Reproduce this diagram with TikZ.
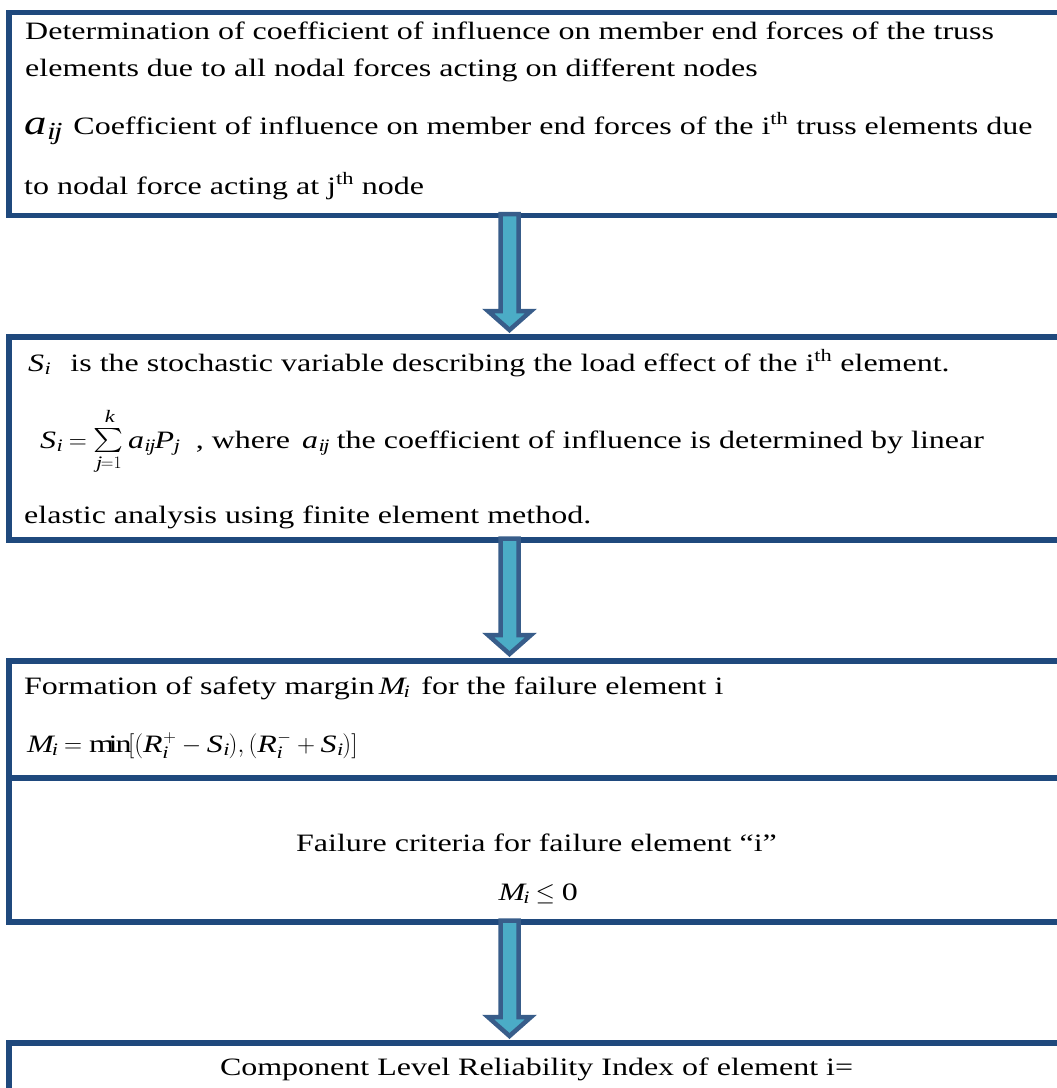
\RequirePackage{fix-cm}
\documentclass[tikz,border=0pt]{standalone}
\usepackage{fontspec}
\setmainfont{Liberation Serif}[FakeStretch=1.28]
\usepackage{graphicx}
\usetikzlibrary{calc}
\definecolor{boxblue}{RGB}{31,73,125}
\definecolor{arrline}{RGB}{56,93,138}
\definecolor{arrfill}{RGB}{75,172,198}
% italic letter with index, in the text font
\newcommand{\vx}[2]{\mathit{#1}_{\mkern4mu\mathit{#2}}}
\newcommand{\vxs}[3]{\mathit{#1}^{\mkern5mu#3}_{\mkern4mu\mathit{#2}}}
\newcommand{\bigsum}{\mathop{\vcenter{\hbox{\resizebox{30pt}{27pt}{$\textstyle\sum$}}}}\limits}
\begin{document}
\begin{tikzpicture}[x=1pt,y=-1pt,line join=miter]
	\tikzset{box/.style={draw=boxblue,line width=5.5pt,minimum width=1055pt,inner sep=0pt,outer sep=0pt,anchor=north west},
		txt/.style={anchor=base west,inner sep=0pt,font=\fontsize{25}{37}\selectfont},
		ctxt/.style={txt,anchor=base},
		blockarrow/.style={draw=arrline,fill=arrfill,line width=4.5pt}}
	\useasboundingbox (0,0) rectangle (1057,1088);
	\clip (0,0) rectangle (1057,1088);
	% boxes
	\node[box,minimum height=203pt] (b1) at (9,12.5) {};
	\node[box,minimum height=203pt] (b2) at (9,337) {};
	\node[box,minimum height=117pt] (b3) at (9,661) {};
	\node[box,minimum height=144pt] (b4) at (9,778) {};
	\node[box,minimum height=80pt] (b5) at (9,1043) {};
	% texts
	\node[txt] (t1a) at (25,39) {Determination of coefficient of influence on member end forces of the truss};
	\node[txt] (t1b) at (25,76) {elements due to all nodal forces acting on different nodes};
	\node[txt] (t1c) at (24,134) {{\fontsize{35}{35}\selectfont$\vx{a}{ij}$}\, Coefficient of influence on member end forces of the i\textsuperscript{th} truss elements due};
	\node[txt] (t1d) at (24,194) {to nodal force acting at j\textsuperscript{th} node};
	\node[txt] (t2a) at (28,371) {$\vx{S}{i}$\enspace\ is the stochastic variable describing the load effect of the i\textsuperscript{th} element.};
	\node[txt] (t2b) at (40,448) {$\displaystyle\vx{S}{i}=\bigsum_{\mathit{j}=1}^{\mathit{k}\rule[-5pt]{0pt}{0pt}}\vx{a}{ij}\vx{P}{j}$\enspace\,, where\, $\vx{a}{ij}$ the coefficient of influence is determined by linear};
	\node[txt] (t2c) at (24,523) {elastic analysis using finite element method.};
	\node[txt] (t3a) at (24,694) {Formation of safety margin\,$\vx{M}{i}$\enspace for the failure element i};
	\node[txt] (t3b) at (27,752) {$\vx{M}{i}=\mathrm{min}[(\vxs{R}{i}{+}-\vx{S}{i}),(\vxs{R}{i}{-}+\vx{S}{i})]$};
	\node[ctxt] (t4a) at (536.5,851) {Failure criteria for failure element “i”};
	\node[ctxt] (t4b) at (536.5,900) {$\vx{M}{i}\le\mathrm{0}$};
	\node[ctxt] (t5) at (536.5,1075) {Component Level Reliability Index of element i=};
	% block arrows
	\coordinate (ax) at (509.5,0);
	\foreach \a/\b in {b1/b2,b2/b3,b4/b5}{
		\coordinate (s) at (ax|-\a.south);
		\coordinate (t) at (ax|-\b.north);
		\draw[blockarrow] ($(s)+(-9,-1.5)$) -- ($(s)+(9,-1.5)$) -- ($(t)+(9,-26)$) -- ($(t)+(21.5,-26)$)
			-- ($(t)+(0,-7)$) -- ($(t)+(-21.5,-26)$) -- ($(t)+(-9,-26)$) -- cycle;
	}
\end{tikzpicture}
\end{document}
